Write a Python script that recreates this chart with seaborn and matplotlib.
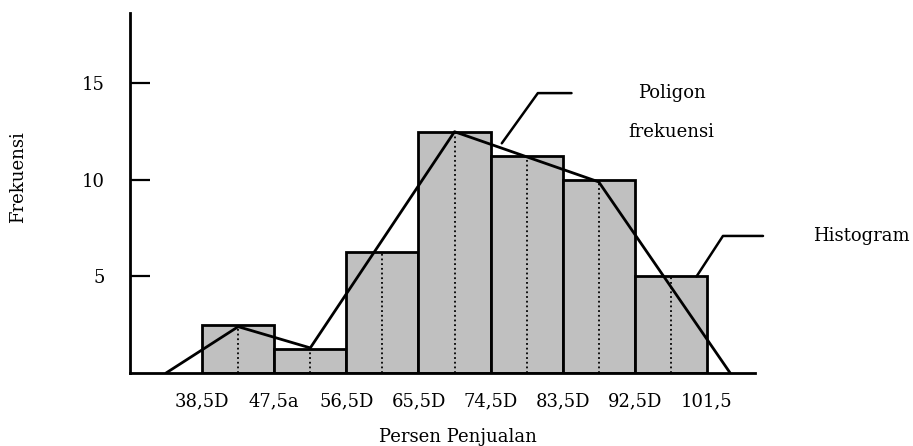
import matplotlib
matplotlib.use("Agg")
import matplotlib.pyplot as plt
import seaborn as sns
import numpy as np

# ---- data ----
class_edges = [38.5, 47.5, 56.5, 65.5, 74.5, 83.5, 92.5, 101.5]
class_mids = [43, 52, 61, 70, 79, 88, 97]
frequencies = [2.5, 1.25, 6.25, 12.5, 11.25, 10, 5]
edge_labels = ["38,5D", "47,5a", "56,5D", "65,5D", "74,5D", "83,5D", "92,5D", "101,5"]
polygon_x = [34, 43, 52, 70, 88, 104.4]
polygon_y = [0, 2.4, 1.3, 12.5, 9.9, 0]
y_ticks = [5, 10, 15]

sns.set_theme(style="white")
plt.rcParams["font.family"] = ["DejaVu Serif"]
plt.rcParams["text.color"] = "black"
plt.rcParams["axes.labelcolor"] = "black"
plt.rcParams["xtick.color"] = "black"
plt.rcParams["ytick.color"] = "black"

W, H = 913, 446
fig = plt.figure(figsize=(W / 100, H / 100), dpi=100)
# axes: x from px 130 to 755, y from px 13 to 373 (top-origin)
ax = fig.add_axes([130 / W, (H - 373) / H, (755 - 130) / W, (373 - 13) / H])

sns.histplot(x=class_mids, weights=frequencies, bins=class_edges, ax=ax,
             color="#c0c0c0", alpha=1, edgecolor="black", linewidth=2)

ax.vlines(class_mids, 0, frequencies, colors="black", linestyles=(0, (1, 1.6)),
          linewidth=1.3, zorder=3)

sns.lineplot(x=polygon_x, y=polygon_y, sort=False, ax=ax, color="black",
             linewidth=2, zorder=4)

ax.set_xlim(29.5, 107.5)
ax.set_ylim(0, 18.65)

for s in ["top", "right"]:
    ax.spines[s].set_visible(False)
for s in ["left", "bottom"]:
    ax.spines[s].set_linewidth(2)
    ax.spines[s].set_color("black")

ax.set_yticks(y_ticks)
ax.set_yticklabels([str(v) for v in y_ticks], fontsize=13)
ax.tick_params(axis="y", direction="in", length=14.4, width=1.6, pad=18,
               colors="black", left=True)
ax.set_xticks(class_edges)
ax.set_xticklabels(edge_labels, fontsize=13)
ax.tick_params(axis="x", length=0, pad=14, colors="black")
ax.set_xlabel("")
ax.set_ylabel("")

fig.text(458 / W, 1 - 437 / H, "Persen Penjualan", ha="center", va="center",
         fontsize=13, color="black")
fig.text(18 / W, 1 - 177 / H, "Frekuensi", ha="center", va="center", rotation=90,
         fontsize=13, color="black")

# leader for polygon
ax.plot([75.9, 80.4, 84.6], [11.9, 14.5, 14.5], color="black", lw=1.8, clip_on=False)
ax.text(97.1, 14.5, "Poligon", ha="center", va="center", fontsize=13, color="black")
ax.text(97.1, 12.5, "frekuensi", ha="center", va="center", fontsize=13, color="black")

# leader for histogram
ax.plot([100.2, 103.5, 108.5], [5.0, 7.1, 7.1], color="black", lw=1.8, clip_on=False)
ax.text(114.8, 7.1, "Histogram", ha="left", va="center", fontsize=13, color="black")

fig.savefig("out.png", dpi=100)
